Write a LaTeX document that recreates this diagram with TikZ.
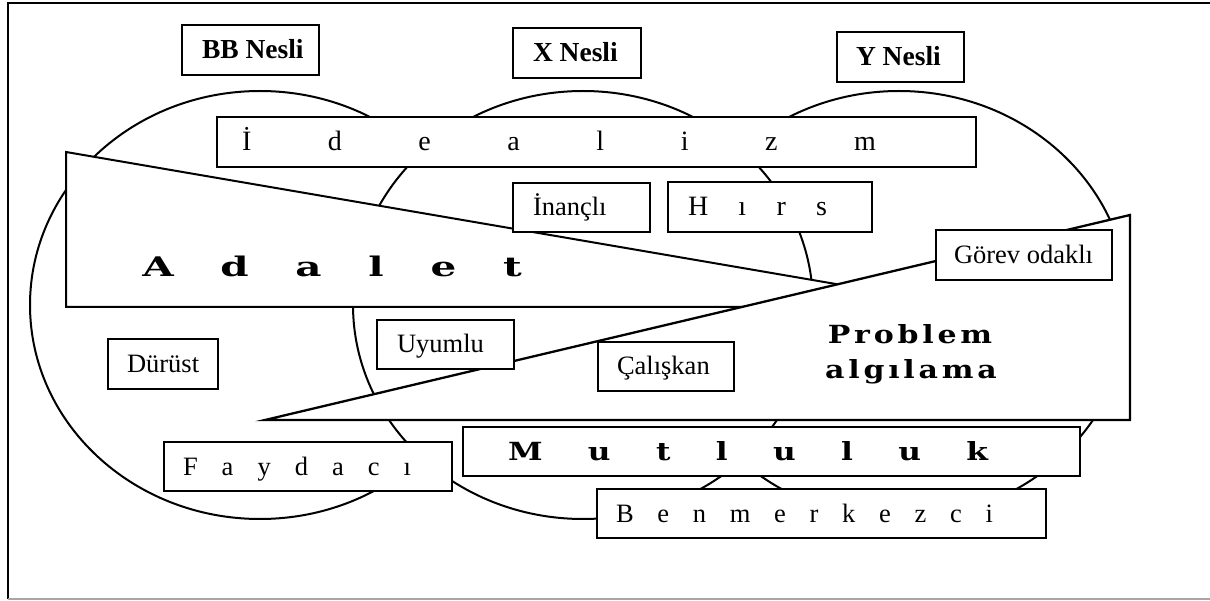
\documentclass[tikz,border=0pt]{standalone}
\usepackage{fontspec}
\usepackage{graphicx}
\setmainfont{Liberation Serif}
\newfontfamily\wfont{DejaVu Serif}
\newcommand{\sstrut}{\rule[-8pt]{0pt}{33pt}}
% name x1 y1 x2 y2 pad content
\newcommand{\tbox}[7]{%
  \node[tb, minimum width={#4-#2}, minimum height={#5-#3}] (#1) at ({(#2+#4)/2},{(#3+#5)/2})
    {\makebox[\dimexpr #4pt-#2pt\relax][l]{\hspace*{#6pt}\sstrut#7}};}
\tikzset{
  tb/.style={draw, fill=white, inner sep=0pt, outer sep=0pt, line width=1.8pt,
    font=\fontsize{26.5}{31}\selectfont},
  circ/.style={draw, fill=white, line width=2pt},
  wedge/.style={draw, fill=white, line width=2pt, line join=miter},
  bigbold/.style={inner sep=0pt, anchor=base, font=\wfont\bfseries\fontsize{27}{31}\selectfont},
  probfont/.style={inner sep=0pt, anchor=base, font=\wfont\bfseries\fontsize{25}{29}\selectfont}
}
\begin{document}
\begin{tikzpicture}[x=1pt, y=-1pt]
\useasboundingbox (0,0) rectangle (1210,601);
% frame
\draw[line width=1.8pt] (8,599) -- (8,3) -- (1210,3);
\draw[line width=1.8pt, black!35] (8,599) -- (1210,599);
% generation circles
\draw[circ] (260,305) ellipse [x radius=230pt, y radius=214pt];
\draw[circ] (899,305) ellipse [x radius=230pt, y radius=214pt];
\draw[circ] (583,305) ellipse [x radius=230pt, y radius=214pt];
% wedges
\draw[wedge] (66,152) -- (900,295) -- (900,307) -- (66,307) -- cycle;
\draw[wedge, line width=2.3pt] (265,420) -- (1130,215) -- (1130,420) -- cycle;
% wedge texts
\node[bigbold] (adalet) at (332,277)
  {\scalebox{1.5}[1]{\makebox[253pt]{A\hfill d\hfill a\hfill l\hfill e\hfill t}}};
\node[probfont] (prob1) at (910,344)
  {\scalebox{1.2}[1]{\makebox[137pt]{P\hfill r\hfill o\hfill b\hfill l\hfill e\hfill m}}};
\node[probfont] (prob2) at (911,379)
  {\scalebox{1.2}[1]{\makebox[143pt]{a\hfill l\hfill g\hfill ı\hfill l\hfill a\hfill m\hfill a}}};
% generation titles
\tbox{bb}{182}{25}{319}{75}{20}{\fontsize{27.5}{31}\selectfont\bfseries BB Nesli}
\tbox{xn}{513}{28}{641}{78}{20}{\fontsize{27.5}{31}\selectfont\bfseries X Nesli}
\tbox{yn}{837}{32}{964}{82}{19}{\fontsize{27.5}{31}\selectfont\bfseries Y Nesli}
% trait boxes
\tbox{ideal}{217}{117}{976}{167}{25}{\fontsize{28}{31}\selectfont\makebox[634pt]{İ\hfill d\hfill e\hfill a\hfill l\hfill i\hfill z\hfill m}}
\tbox{inancli}{513}{183}{650}{232}{20}{İnançlı}
\tbox{hirs}{668}{182}{872}{232}{20}{\fontsize{28}{31}\selectfont\makebox[139pt]{H\hfill ı\hfill r\hfill s}}
\tbox{gorev}{936}{230}{1112}{280}{18}{Görev odaklı}
\tbox{durust}{108}{339}{218}{389}{19}{Dürüst}
\tbox{uyumlu}{377}{320}{514}{369}{20}{Uyumlu}
\tbox{caliskan}{598}{342}{734}{391}{19}{Çalışkan}
\tbox{faydaci}{164}{442}{452}{491}{19}{\makebox[228pt]{F\hfill a\hfill y\hfill d\hfill a\hfill c\hfill ı}}
\tbox{mutluluk}{463}{427}{1080}{476}{45}{{\wfont\bfseries\fontsize{25}{28}\selectfont\scalebox{1.25}[1]{\makebox[384pt]{M\hfill u\hfill t\hfill l\hfill u\hfill l\hfill u\hfill k}}}}
\tbox{benmerkezci}{597}{489}{1046}{538}{19}{\makebox[377pt]{B\hfill e\hfill n\hfill m\hfill e\hfill r\hfill k\hfill e\hfill z\hfill c\hfill i}}
\end{tikzpicture}
\end{document}
